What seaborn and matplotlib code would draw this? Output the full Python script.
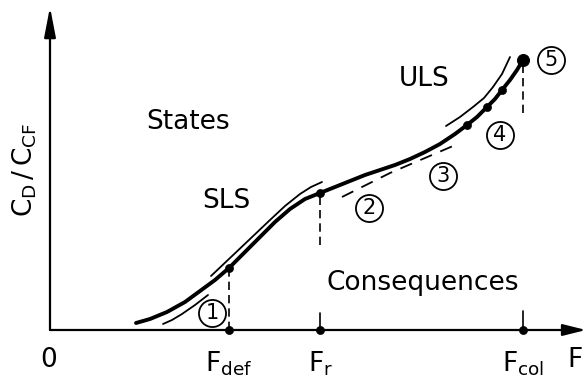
import matplotlib
matplotlib.use("Agg")
import matplotlib.pyplot as plt
import seaborn as sns

sns.set_theme(style="white")
plt.rcParams["font.family"] = ["DejaVu Sans"]
plt.rcParams["text.color"] = "black"

# Main relation between load F and damage-cost ratio C_D / C_CF
curve_F = [86, 100, 117, 135, 150, 165, 179, 195, 210, 225, 240, 255, 270, 285,
           300, 315, 330, 345, 360, 375, 390, 405, 417, 427, 437, 445, 452, 460,
           467, 473]
curve_C = [7, 11, 18, 28, 39, 50, 62, 78, 93, 108, 121, 131, 137, 143,
           149, 155, 160, 165, 171, 178, 186, 196, 205, 213, 223, 231, 240, 250,
           260, 270]

# Thin companion lines (state limits) and dashed consequence line
sls_low_F = [113, 122, 132, 145, 158]
sls_low_C = [6, 10, 16, 25, 35]
sls_up_F = [161, 180, 200, 220, 235, 250, 261, 272]
sls_up_C = [54, 72, 91, 110, 124, 136, 143, 148]
uls_F = [396, 410, 423, 434, 443, 452, 460]
uls_C = [204, 213, 223, 232, 243, 256, 273]
cons_F = [292, 340, 403]
cons_C = [133, 157, 184]

# Marked points on the curve
pts_F = [179, 270, 417, 437, 452]
pts_C = [62, 137, 205, 223, 240]
collapse_F = [473]
collapse_C = [270]

# Characteristic loads
F_ticks = [179, 270, 473]
F_labels = [r"$\mathregular{F_{def}}$", r"$\mathregular{F_r}$", r"$\mathregular{F_{col}}$"]

# Numbered stages
stage_F = [162, 319, 393, 450, 501]
stage_C = [17, 122, 154, 195, 270]
stage_lbl = ["1", "2", "3", "4", "5"]

fig = plt.figure(figsize=(5.86, 3.82), dpi=100)
ax = fig.add_axes([0, 0, 1, 1])
ax.set_xlim(-50, 536)
ax.set_ylim(-52, 330)
ax.axis("off")

k = "black"
# axes with arrows
ax.annotate("", xy=(0, 323), xytext=(0, 0),
            arrowprops=dict(arrowstyle="-|>,head_length=1.3,head_width=0.25",
                            lw=1.6, color=k, mutation_scale=14, shrinkA=0, shrinkB=0))
ax.annotate("", xy=(536, 0), xytext=(0, 0),
            arrowprops=dict(arrowstyle="-|>,head_length=1.0,head_width=0.25",
                            lw=1.6, color=k, mutation_scale=14, shrinkA=0, shrinkB=0))


def line(xs, ys, **kw):
    sns.lineplot(x=xs, y=ys, ax=ax, sort=False, estimator=None, color=k, **kw)


line(curve_F, curve_C, lw=2.8)
line(sls_low_F, sls_low_C, lw=1.3)
line(sls_up_F, sls_up_C, lw=1.3)
line(uls_F, uls_C, lw=1.3)
ax.plot(cons_F, cons_C, color=k, lw=1.3, ls=(0, (7, 5)))

# dashed verticals to the load axis
dash = (0, (5, 3))
ax.plot([F_ticks[0], F_ticks[0]], [0, pts_C[0]], color=k, lw=1.2, ls=dash)
ax.plot([F_ticks[1], F_ticks[1]], [85, pts_C[1]], color=k, lw=1.2, ls=dash)
ax.plot([F_ticks[2], F_ticks[2]], [217, collapse_C[0]], color=k, lw=1.2, ls=dash)
ax.plot([F_ticks[1], F_ticks[1]], [0, 17], color=k, lw=1.2)
ax.plot([F_ticks[2], F_ticks[2]], [0, 19], color=k, lw=1.2)

sns.scatterplot(x=pts_F, y=pts_C, ax=ax, color=k, s=34, edgecolor=k, zorder=5)
sns.scatterplot(x=collapse_F, y=collapse_C, ax=ax, color=k, s=75, edgecolor=k, zorder=5)
sns.scatterplot(x=F_ticks, y=[0, 0, 0], ax=ax, color=k, s=34, edgecolor=k, zorder=5)

# numbered circles
ax.scatter(stage_F, stage_C, s=380, facecolors="white", edgecolors=k, linewidths=1.3, zorder=6)
for fx, cy, t in zip(stage_F, stage_C, stage_lbl):
    ax.text(fx, cy, t, ha="center", va="center", fontsize=15, zorder=7)

fs = 19
for fx, t in zip(F_ticks, F_labels):
    ax.text(fx, -19, t, ha="center", va="top", fontsize=fs)
ax.text(-1, -17, "0", ha="center", va="top", fontsize=fs)
ax.text(525, -17, "F", ha="center", va="top", fontsize=fs)

ax.text(-25, 160, r"$\mathregular{C_D\,/\,C_{CF}}$", rotation=90,
        ha="center", va="center", fontsize=fs)
ax.text(138, 208, "States", ha="center", va="center", fontsize=fs)
ax.text(176, 129, "SLS", ha="center", va="center", fontsize=fs)
ax.text(374, 251, "ULS", ha="center", va="center", fontsize=fs)
ax.text(373, 47, "Consequences", ha="center", va="center", fontsize=fs)

fig.savefig("out.png", dpi=100)
